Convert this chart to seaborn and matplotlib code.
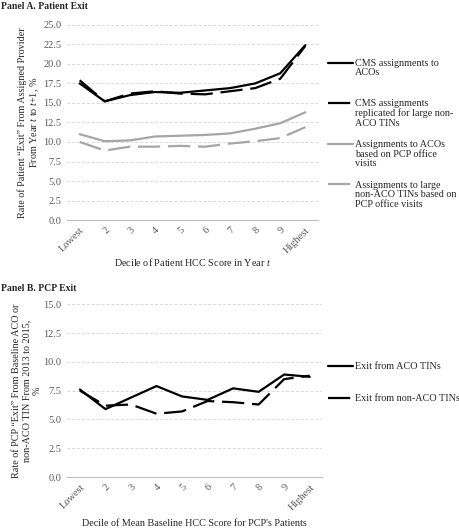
import matplotlib
matplotlib.use("Agg")
import matplotlib.pyplot as plt
import numpy as np
import pandas as pd
import seaborn as sns

# deciles
deciles = ["Lowest", "2", "3", "4", "5", "6", "7", "8", "9", "Highest"]

# panel A: patient exit, %
cms_aco = [17.5, 15.2, 16.0, 16.4, 16.3, 16.6, 16.9, 17.5, 18.8, 22.4]
cms_nonaco = [17.9, 15.2, 16.2, 16.5, 16.2, 16.1, 16.5, 16.9, 18.1, 22.3]
pcp_aco = [11.0, 10.1, 10.2, 10.7, 10.8, 10.9, 11.1, 11.7, 12.4, 13.8]
pcp_nonaco = [10.0, 8.9, 9.4, 9.4, 9.5, 9.4, 9.8, 10.1, 10.5, 11.9]
labels_a = ["CMS assignments to\nACOs\n",
            "CMS assignments\nreplicated for large non-\nACO TINs",
            "Assignments to ACOs\nbased on PCP office\nvisits",
            "Assignments to large\nnon-ACO TINs based on\nPCP office visits"]

# panel B: PCP exit, %
exit_aco = [7.6, 5.9, 6.9, 7.9, 7.0, 6.7, 7.7, 7.4, 8.9, 8.7]
exit_nonaco = [7.5, 6.2, 6.3, 5.5, 5.7, 6.6, 6.5, 6.3, 8.5, 8.8]
labels_b = ["Exit from ACO TINs", "Exit from non-ACO TINs"]

sns.set_style("white")
plt.rcParams["font.family"] = ["Liberation Serif", "DejaVu Serif"]
plt.rcParams["mathtext.fontset"] = "custom"
plt.rcParams["mathtext.rm"] = "Liberation Serif"
plt.rcParams["mathtext.it"] = "Liberation Serif:italic"

pos = np.arange(len(deciles))
df_a = pd.DataFrame({
    "x": np.tile(pos, 4),
    "y": cms_aco + cms_nonaco + pcp_aco + pcp_nonaco,
    "s": np.repeat(labels_a, len(deciles)),
})
df_b = pd.DataFrame({
    "x": np.tile(pos, 2),
    "y": exit_aco + exit_nonaco,
    "s": np.repeat(labels_b, len(deciles)),
})

grey = "#a6a6a6"
tick_c = "#595959"
dash = (10, 3.5)

fig = plt.figure(figsize=(4.6, 5.29), dpi=100)
ax1 = fig.add_axes([0.146, 0.584, 0.545, 0.369])
ax2 = fig.add_axes([0.146, 0.098, 0.555, 0.327])


def style_ax(ax, ymax, xlabel, ylabel, xpad, ypad):
    ax.set_xlim(-0.5, 9.5)
    ax.set_ylim(0, ymax)
    ticks = np.arange(0, ymax + 0.1, 2.5)
    ax.set_yticks(ticks)
    ax.set_yticklabels(["%.1f" % v for v in ticks])
    ax.set_xticks(pos)
    ax.set_xticklabels(deciles, rotation=45, ha="right", rotation_mode="anchor")
    ax.tick_params(axis="both", labelsize=7.5, colors=tick_c, length=0, pad=4)
    ax.grid(axis="y", color="#d9d9d9", linestyle=(0, (3, 2)), linewidth=0.7)
    for s in ["top", "right", "left"]:
        ax.spines[s].set_visible(False)
    ax.spines["bottom"].set_color("#bfbfbf")
    ax.set_xlabel(xlabel, fontsize=7.3, color="#262626", labelpad=xpad)
    ax.set_ylabel(ylabel, fontsize=7.3, color="#262626", labelpad=ypad)


def make_legend(ax, top, spacing):
    h, l = ax.get_legend_handles_labels()
    leg = ax.legend(h, l, loc="upper left", bbox_to_anchor=(328 / 460, top),
                    bbox_transform=fig.transFigure, frameon=False,
                    fontsize=7.3, handlelength=2.5, handletextpad=0.15,
                    labelspacing=spacing, borderpad=0, borderaxespad=0)
    for t in leg.get_texts():
        t.set_linespacing(1.05)
    # put each handle next to the first line of its label
    for col in leg._legend_handle_box.get_children():
        for row in col.get_children():
            row.align = "top"
    return leg


# panel A
sns.lineplot(data=df_a, x="x", y="y", hue="s", style="s", ax=ax1,
             palette=["black", "black", grey, grey],
             dashes=[(None, None), dash, (None, None), dash],
             linewidth=1.6)
style_ax(ax1, 25, r"Decile of Patient HCC Score in Year $\mathit{t}$",
         "Rate of Patient \u201cExit\u201d From Assigned Provider\n"
         r"From Year $\mathit{t}$ to $\mathit{t}$+1, %", 1, 2)
make_legend(ax1, 1 - 59 / 529, 1.25)
fig.text(0.003, 0.997, "Panel A. Patient Exit", fontsize=7, fontweight="bold",
         va="top")

# panel B
sns.lineplot(data=df_b, x="x", y="y", hue="s", style="s", ax=ax2,
             palette=["black", "black"], dashes=[(None, None), dash],
             linewidth=1.6)
style_ax(ax2, 15, "Decile of Mean Baseline HCC Score for PCP's Patients",
         "Rate of PCP \u201cExit\u201d From Baseline ACO or\n"
         "non-ACO TIN From 2013 to 2015,\n%", 5, 1)
make_legend(ax2, 1 - 362 / 529, 2.3)
fig.text(0.003, 0.463, "Panel B. PCP Exit", fontsize=7, fontweight="bold",
         va="top")

fig.savefig("out.png", dpi=100)
